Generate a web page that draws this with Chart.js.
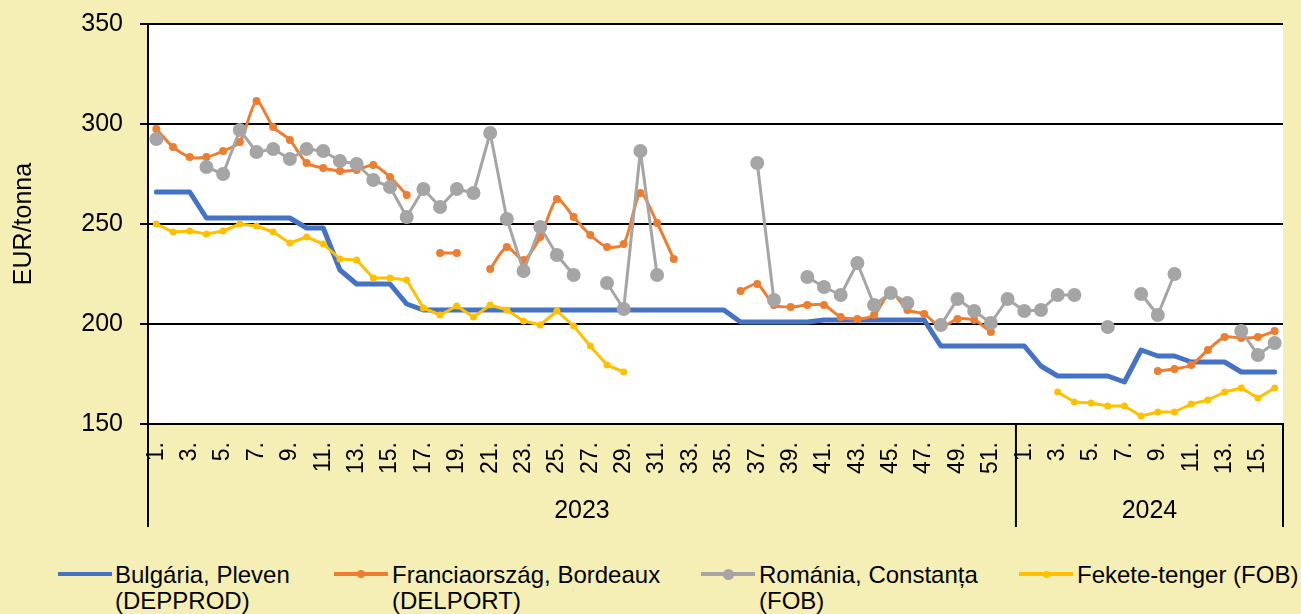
<!DOCTYPE html>
<html>
<head>
<meta charset="utf-8">
<script src="https://cdn.jsdelivr.net/npm/chart.js@4"></script>
<style>
  body { margin: 0; background: #f5efb5; font-family: Arial, "Liberation Sans", sans-serif; }
  #wrap { position: relative; width: 1301px; height: 614px; overflow: hidden; }
  #chart { position: absolute; left: 0; top: 0; }
  .item { position: absolute; top: 562px; font-size: 24px; line-height: 26px; color: #000; }
  .swatch { position: absolute; width: 54px; height: 4px; top: 11px; }
  .dot { position: absolute; border-radius: 50%; }
</style>
</head>
<body>
<div id="wrap">
  <canvas id="chart" width="1301" height="540"></canvas>
  <div id="legend"></div>
</div>
<script>
// Hetek (kategóriák)
var weekLabels = ["1.", "2.", "3.", "4.", "5.", "6.", "7.", "8.", "9.", "10.", "11.", "12.", "13.", "14.", "15.", "16.", "17.", "18.", "19.", "20.",
  "21.", "22.", "23.", "24.", "25.", "26.", "27.", "28.", "29.", "30.", "31.", "32.", "33.", "34.", "35.", "36.", "37.", "38.", "39.", "40.",
  "41.", "42.", "43.", "44.", "45.", "46.", "47.", "48.", "49.", "50.", "51.", "52.",
  "1.", "2.", "3.", "4.", "5.", "6.", "7.", "8.", "9.", "10.", "11.", "12.", "13.", "14.", "15.", "16."];
var years = ["2023", "2024"];
var weeksPerYear = [52, 16];

// Árak, EUR/tonna
var bulgaria = [266, 266, 266, 253, 253, 253, 253, 253, 253, 248, 248, 227, 220, 220, 220, 210, 207, 207, 207, 207,
  207, 207, 207, 207, 207, 207, 207, 207, 207, 207, 207, 207, 207, 207, 207, 201, 201, 201, 201, 201,
  202, 202, 202, 202, 202, 202, 202, 189, 189, 189, 189, 189,
  189, 179, 174, 174, 174, 174, 171, 187, 184, 184, 181, 181, 181, 176, 176, 176];
var franciaorszag = [297.5, 288.5, 283.5, 283.5, 286.5, 291, 311.5, 298.5, 292, 280.5, 278, 276.5, 277, 279.5, 273.5, 264.5, null, 235.5, 235.5, null,
  227.5, 238.5, 232, 243.5, 262.5, 253.5, 244.5, 238.5, 240, 265.5, 250.5, 232.5, null, null, null, 216.5, 220, 209.5, 208.5, 209.5,
  209.5, 203.5, 202.5, 204.5, 216, 207, 205, 198.5, 202.5, 202, 196, null,
  null, null, null, null, null, null, null, null, 176.5, 177.5, 179.5, 187, 193.5, 193, 193.5, 196.5];
var romania = [292.5, null, null, 278.5, 275, 297, 286, 287.5, 282.5, 287.5, 286.5, 281.5, 280, 272, 268.5, 253.5, 267.5, 258.5, 267.5, 265.5,
  295.5, 252.5, 226.5, 248.5, 234.5, 224.5, null, 220.5, 207.5, 286.5, 224.5, null, null, null, null, null, 280.5, 212, null, 223.5,
  218.5, 214.5, 230.5, 209.5, 215.5, 210.5, null, 199.5, 212.5, 206.5, 200.5, 212.5,
  206.5, 207, 214.5, 214.5, null, 198.5, null, 215, 204.5, 225, null, null, null, 196.5, 184.5, 190.5];
var feketeTenger = [250, 246, 246.5, 245, 246.5, 250, 249, 246, 240.5, 243.5, 240, 232.5, 232, 223, 223, 222, 208, 204.5, 209, 203.5,
  209.5, 207, 201.5, 199.5, 206.5, 199, 189, 179.5, 176, null, null, null, null, null, null, null, null, null, null, null,
  null, null, null, null, null, null, null, null, null, null, null, null,
  null, null, 166, 161, 160.5, 159, 159, 154, 156, 156, 160, 162, 166, 168, 163, 168];

var seriesNames = [["Bulgária, Pleven", "(DEPPROD)"], ["Franciaország, Bordeaux", "(DELPORT)"], ["Románia, Constanța", "(FOB)"], ["Fekete-tenger (FOB)"]];
var colors = ["#4472c4", "#ed7d31", "#a5a5a5", "#ffc000"];

var font = { family: "Arial, 'Liberation Sans', sans-serif", size: 25 };

// Fehér rajzterület, évek és elválasztók
var plotArea = {
  id: 'plotArea',
  beforeDraw: function (chart) {
    var a = chart.chartArea, c = chart.ctx;
    c.save();
    c.fillStyle = '#ffffff';
    c.fillRect(a.left, a.top, a.right - a.left, a.bottom - a.top);
    c.restore();
  },
  afterDraw: function (chart) {
    var xs = chart.scales.x, a = chart.chartArea, c = chart.ctx;
    var edges = [a.left];
    var n = 0;
    weeksPerYear.forEach(function (w) {
      n += w;
      if (n < weekLabels.length) {
        edges.push((xs.getPixelForValue(n - 1) + xs.getPixelForValue(n)) / 2);
      } else {
        edges.push(a.right);
      }
    });
    c.save();
    c.strokeStyle = '#000';
    c.lineWidth = 2;
    edges.forEach(function (x) {
      c.beginPath();
      c.moveTo(x, a.bottom);
      c.lineTo(x, a.bottom + 103);
      c.stroke();
    });
    c.fillStyle = '#000';
    c.font = font.size + 'px ' + font.family;
    c.textAlign = 'center';
    c.textBaseline = 'middle';
    years.forEach(function (y, i) {
      c.fillText(y, (edges[i] + edges[i + 1]) / 2, a.bottom + 87);
    });
    c.restore();
  }
};

function noPad(s) {
  s.paddingTop = 0;
  s.paddingBottom = 0;
  s.paddingLeft = 0;
  s.paddingRight = 0;
}

function line(label, data, i, width, radius, tension, order) {
  return {
    label: label,
    data: data,
    borderColor: colors[i],
    backgroundColor: colors[i],
    borderWidth: width,
    borderJoinStyle: 'round',
    borderCapStyle: 'round',
    pointRadius: radius,
    pointBorderWidth: 0,
    pointHoverRadius: radius,
    tension: tension,
    spanGaps: false,
    order: order
  };
}

var ctx = document.getElementById('chart').getContext('2d');
var chart = new Chart(ctx, {
  type: 'line',
  data: {
    labels: weekLabels,
    datasets: [
      line(seriesNames[0].join(' '), bulgaria, 0, 5, 0, 0, 3),
      line(seriesNames[1].join(' '), franciaorszag, 1, 3, 4, 0.25, 2),
      line(seriesNames[2].join(' '), romania, 2, 3, 7, 0, 1),
      line(seriesNames[3].join(' '), feketeTenger, 3, 3, 3.5, 0, 0)
    ]
  },
  options: {
    responsive: false,
    animation: false,
    layout: { padding: { top: 24, right: 18, left: 0, bottom: 0 } },
    plugins: { legend: { display: false }, tooltip: { enabled: false } },
    scales: {
      x: {
        offset: true,
        grid: { display: false, drawTicks: false },
        border: { display: true, color: '#000', width: 2 },
        ticks: {
          autoSkip: false,
          maxRotation: 90,
          minRotation: 90,
          padding: 18,
          color: '#000',
          font: { family: font.family, size: 23 },
          callback: function (v, i) { return i % 2 === 0 ? weekLabels[i] : ''; }
        },
        afterFit: function (s) { s.height = 116; noPad(s); }
      },
      y: {
        min: 150,
        max: 350,
        ticks: { stepSize: 50, padding: 17, color: '#000', font: font },
        grid: { color: '#000', lineWidth: 2, tickLength: 8, drawTicks: true },
        border: { display: true, color: '#000', width: 2 },
        title: { display: true, text: 'EUR/tonna', color: '#000', font: font, padding: { top: 9, bottom: 0 } },
        afterFit: function (s) { s.width = 148; noPad(s); }
      }
    }
  },
  plugins: [plotArea]
});

// Jelmagyarázat HTML-ben
var legendPos = [{ sw: 58, tx: 115 }, { sw: 334, tx: 392 }, { sw: 701, tx: 759 }, { sw: 1019, tx: 1077 }];
var dotSize = [0, 8, 11, 7];
var legend = document.getElementById('legend');
seriesNames.forEach(function (name, i) {
  var sw = document.createElement('div');
  sw.className = 'swatch';
  sw.style.left = legendPos[i].sw + 'px';
  sw.style.top = (574 - 2) + 'px';
  sw.style.background = colors[i];
  if (dotSize[i]) {
    var d = document.createElement('div');
    d.className = 'dot';
    d.style.width = d.style.height = dotSize[i] + 'px';
    d.style.left = (27 - dotSize[i] / 2) + 'px';
    d.style.top = (2 - dotSize[i] / 2) + 'px';
    d.style.background = colors[i];
    sw.appendChild(d);
  }
  legend.appendChild(sw);
  var t = document.createElement('div');
  t.className = 'item';
  t.style.left = legendPos[i].tx + 'px';
  t.innerHTML = name.join('<br>');
  legend.appendChild(t);
});
</script>
</body>
</html>
